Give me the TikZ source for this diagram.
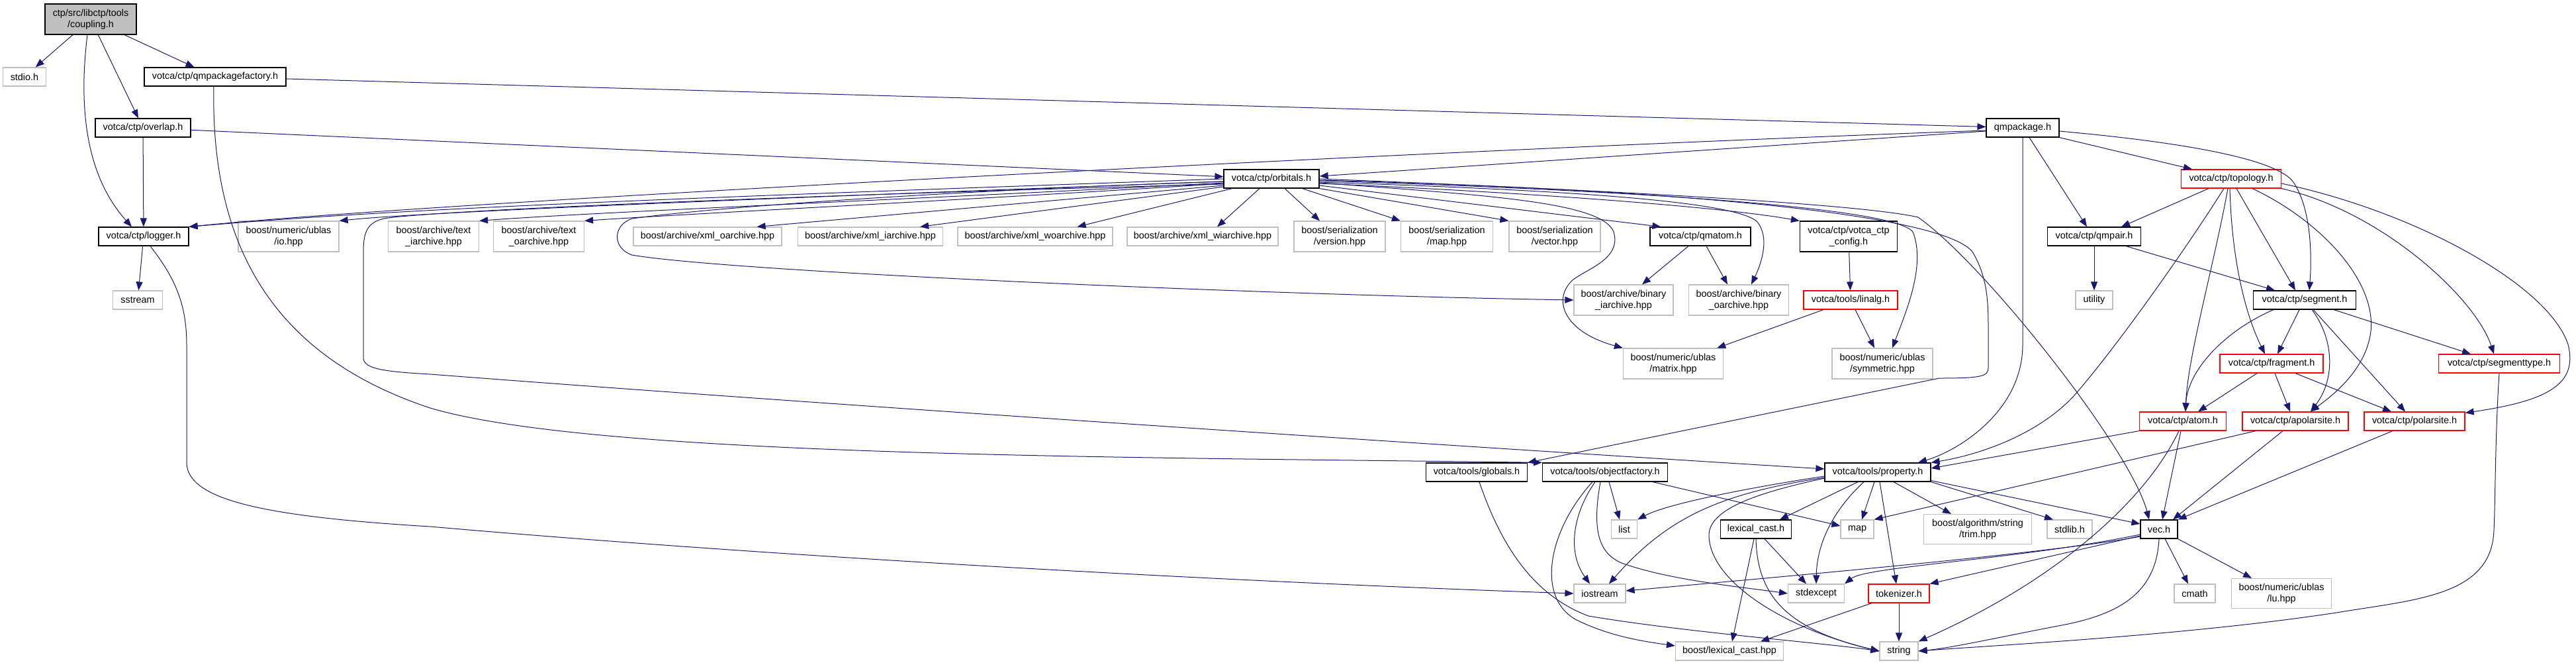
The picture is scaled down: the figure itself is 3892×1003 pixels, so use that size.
\documentclass[tikz,border=0pt]{standalone}
\usepackage{fontspec}
\setmainfont{Liberation Sans}
\usepackage{tikz}
\usetikzlibrary{arrows.meta}

\definecolor{edgeblue}{HTML}{191970}
\definecolor{extgray}{HTML}{BFBFBF}
\newcommand{\graphfont}{\fontsize{7.2pt}{8.6pt}\selectfont}

\begin{document}
\begin{tikzpicture}[x=0.5pt, y=-0.5pt,
  block/.style={rectangle, draw=black, line width=0.6pt, fill=white, inner sep=0pt, align=center, minimum height=14pt, font=\graphfont},
  ext/.style={block, draw=extgray},
  trunc/.style={block, draw=red},
  root/.style={block, fill=extgray},
  line/.style={draw=edgeblue, line width=0.5pt, -{Triangle[length=6.5pt,width=5pt]}}]

  \useasboundingbox (0,0) rectangle (3892,1003);

  % top rows
  \node [root, minimum width=69pt, minimum height=23pt] (coupling) at (137,29) {ctp/src/libctp/tools\\/coupling.h};
  \node [ext, minimum width=32.5pt] (stdio) at (37,116) {stdio.h};
  \node [block, minimum width=107pt] (qmpf) at (325,116) {votca/ctp/qmpackagefactory.h};
  \node [block, minimum width=72pt] (overlap) at (216,193) {votca/ctp/overlap.h};
  \node [block, minimum width=55pt] (qmpackage) at (3056,193) {qmpackage.h};
  \node [block, minimum width=72pt] (orbitals) at (1921,270) {votca/ctp/orbitals.h};
  \node [trunc, minimum width=75.5pt] (topology) at (3371,270) {votca/ctp/topology.h};

  % includes of orbitals
  \node [block, minimum width=68pt] (logger) at (217,357) {votca/ctp/logger.h};
  \node [ext, minimum width=76pt, minimum height=23pt] (ublasio) at (436,357) {boost/numeric/ublas\\/io.hpp};
  \node [ext, minimum width=68.5pt, minimum height=23pt] (textia) at (655,357) {boost/archive/text\\\_iarchive.hpp};
  \node [ext, minimum width=68.5pt, minimum height=23pt] (textoa) at (814,357) {boost/archive/text\\\_oarchive.hpp};
  \node [ext, minimum width=112pt] (xmloa) at (1069,357) {boost/archive/xml\_oarchive.hpp};
  \node [ext, minimum width=109.5pt] (xmlia) at (1315,357) {boost/archive/xml\_iarchive.hpp};
  \node [ext, minimum width=117pt] (xmlwoa) at (1564,357) {boost/archive/xml\_woarchive.hpp};
  \node [ext, minimum width=114pt] (xmlwia) at (1817,357) {boost/archive/xml\_wiarchive.hpp};
  \node [ext, minimum width=69pt, minimum height=23pt] (version) at (2024,357) {boost/serialization\\/version.hpp};
  \node [ext, minimum width=69.5pt, minimum height=23pt] (sermap) at (2186,357) {boost/serialization\\/map.hpp};
  \node [ext, minimum width=69pt, minimum height=23pt] (servec) at (2349,357) {boost/serialization\\/vector.hpp};
  \node [block, minimum width=76pt] (qmatom) at (2569,357) {votca/ctp/qmatom.h};
  \node [block, minimum width=73.5pt, minimum height=23pt] (config) at (2793,357) {votca/ctp/votca\_ctp\\\_config.h};
  \node [block, minimum width=70.5pt] (qmpair) at (3164,357) {votca/ctp/qmpair.h};

  \node [ext, minimum width=37.5pt] (sstream) at (208,453) {sstream};
  \node [ext, minimum width=75pt, minimum height=23pt] (binia) at (2453,453) {boost/archive/binary\\\_iarchive.hpp};
  \node [ext, minimum width=75.5pt, minimum height=23pt] (binoa) at (2627,453) {boost/archive/binary\\\_oarchive.hpp};
  \node [trunc, minimum width=71pt] (linalg) at (2796,453) {votca/tools/linalg.h};
  \node [ext, minimum width=28pt] (utility) at (3164,453) {utility};
  \node [block, minimum width=77.5pt] (segment) at (3482,453) {votca/ctp/segment.h};

  \node [ext, minimum width=75.5pt, minimum height=23pt] (ublasmatrix) at (2528,549) {boost/numeric/ublas\\/matrix.hpp};
  \node [ext, minimum width=76pt, minimum height=23pt] (symmetric) at (2844,549) {boost/numeric/ublas\\/symmetric.hpp};
  \node [trunc, minimum width=78pt] (fragment) at (3432,549) {votca/ctp/fragment.h};
  \node [trunc, minimum width=91.5pt] (segtype) at (3776,549) {votca/ctp/segmenttype.h};

  \node [trunc, minimum width=65.5pt] (atom) at (3298,636) {votca/ctp/atom.h};
  \node [trunc, minimum width=80pt] (apolar) at (3468,636) {votca/ctp/apolarsite.h};
  \node [trunc, minimum width=76pt] (polar) at (3648,636) {votca/ctp/polarsite.h};

  % bottom rows
  \node [block, minimum width=76.5pt] (globals) at (2231,713) {votca/tools/globals.h};
  \node [block, minimum width=94.5pt] (objfac) at (2425,713) {votca/tools/objectfactory.h};
  \node [block, minimum width=80pt] (property) at (2837,713) {votca/tools/property.h};

  \node [ext, minimum width=19.5pt] (stdlist) at (2454,799) {list};
  \node [block, minimum width=53.5pt] (lexh) at (2653,799) {lexical\_cast.h};
  \node [ext, minimum width=25pt] (stdmap) at (2806,799) {map};
  \node [ext, minimum width=81.5pt, minimum height=22.5pt] (trim) at (2988,799) {boost/algorithm/string\\/trim.hpp};
  \node [ext, minimum width=34pt] (stdlib) at (3127,799) {stdlib.h};
  \node [block, minimum width=28pt] (vec) at (3262,799) {vec.h};

  \node [ext, minimum width=39pt] (iostream) at (2417,896) {iostream};
  \node [ext, minimum width=42.5pt] (stdexcept) at (2744,896) {stdexcept};
  \node [trunc, minimum width=46pt] (tokenizer) at (2869,896) {tokenizer.h};
  \node [ext, minimum width=31pt] (cmath) at (3316,896) {cmath};
  \node [ext, minimum width=75.5pt, minimum height=22.5pt] (lu) at (3447,896) {boost/numeric/ublas\\/lu.hpp};

  \node [ext, minimum width=81.5pt] (lexhpp) at (2613,983) {boost/lexical\_cast.hpp};
  \node [ext, minimum width=29pt] (stdstring) at (2869,983) {string};

  % coupling.h
  \path [line] (coupling) -- (stdio);
  \path [line] ([xshift=-2.5pt]coupling.south) .. controls (120,150) and (125,260) .. ([xshift=-9pt]logger.north);
  \path [line] (coupling) -- (overlap);
  \path [line] (coupling) -- (qmpf);

  % qmpackagefactory.h
  \path [line] (qmpf) -- (qmpackage);
  \path [line] ([xshift=-1pt]qmpf.south) .. controls (318,380) and (420,540) .. (650,616) .. controls (900,690) and (1700,690) .. (objfac.north west);

  % overlap.h, logger.h
  \path [line] (overlap) -- (logger);
  \path [line] (overlap) -- (orbitals);
  \path [line] (logger) -- (sstream);
  \path [line] ([xshift=5pt]logger.south) .. controls (265,420) and (282,460) .. (282,520) -- (282,700) .. controls (285,755) and (400,780) .. (650,795) .. controls (1200,843) and (1900,880) .. (iostream.west);

  % qmpackage.h
  \path [line] ([yshift=-2pt]qmpackage.west) .. controls (2200,225) and (650,305) .. (logger.north east);
  \path [line] ([yshift=-2.5pt]qmpackage.west) -- ([yshift=2pt]orbitals.east);
  \path [line] (qmpackage.south) -- (3056,520) .. controls (3056,620) and (2960,680) .. ([xshift=30.5pt]property.north);
  \path [line] ([xshift=5pt]qmpackage.south) -- ([xshift=-5.5pt]qmpair.north);
  \path [line] (qmpackage.south east) -- ([xshift=8.5pt]topology.north west);
  \path [line] ([yshift=-2.5pt]qmpackage.east) .. controls (3300,215) and (3440,240) .. (3465,275) .. controls (3495,320) and (3492,400) .. ([xshift=3.5pt]segment.north);

  % orbitals.h
  \path [line] (orbitals.west) .. controls (1000,300) and (600,315) .. (logger.north east);
  \path [line] ([yshift=-2pt]orbitals.west) .. controls (1000,305) and (620,322) .. (ublasio.north east);
  \path [line] ([yshift=-4pt]orbitals.west) .. controls (1200,295) and (650,318) .. (580,330) .. controls (555,336) and (549,350) .. (549,380) -- (549,540) .. controls (549,557) and (580,561) .. (650,565) .. controls (1300,615) and (2300,680) .. ([yshift=2.5pt]property.west);
  \path [line] ([yshift=-3pt]orbitals.west) .. controls (1400,300) and (900,320) .. (textia.north east);
  \path [line] ([yshift=-3.5pt]orbitals.west) .. controls (1500,300) and (1050,322) .. (textoa.north east);
  \path [line] ([yshift=-5pt]orbitals.west) -- ([xshift=-19pt]xmloa.north east);
  \path [line] ([yshift=-6pt]orbitals.west) -- ([xshift=-17.5pt]xmlia.north east);
  \path [line] ([xshift=6.5pt]orbitals.south west) -- ([xshift=-27pt]xmlwoa.north east);
  \path [line] ([xshift=-9pt]orbitals.south) -- ([xshift=11pt]xmlwia.north);
  \path [line] ([yshift=-2pt]orbitals.west) .. controls (1500,285) and (1100,310) .. (955,330) .. controls (925,340) and (925,375) .. (955,385) .. controls (1100,410) and (1900,445) .. (binia.west);
  \path [line] ([xshift=10pt]orbitals.south) -- ([xshift=-15pt]version.north);
  \path [line] ([xshift=-13pt]orbitals.south east) -- (sermap.north west);
  \path [line] (orbitals.south east) -- (servec.north west);
  \path [line] ([yshift=-5pt]orbitals.east) -- ([xshift=8.5pt]qmatom.north west);
  \path [line] ([yshift=-3pt]orbitals.east) .. controls (2250,295) and (2420,305) .. (2438,350) .. controls (2450,390) and (2400,405) .. (2377,422) .. controls (2345,450) and (2360,500) .. (ublasmatrix.north west);
  \path [line] ([yshift=-3.5pt]orbitals.east) .. controls (2300,290) and (2600,312) .. (config.north west);
  \path [line] ([yshift=-2.5pt]orbitals.east) .. controls (2300,285) and (2620,300) .. (2655,335) .. controls (2675,360) and (2660,400) .. ([xshift=9.5pt]binoa.north);
  \path [line] ([yshift=-1.5pt]orbitals.east) .. controls (2400,285) and (2860,310) .. (2890,350) .. controls (2910,400) and (2880,470) .. ([xshift=7.5pt]symmetric.north);
  \path [line] ([yshift=-1pt]orbitals.east) .. controls (2500,285) and (2930,320) .. (2980,380) .. controls (3004,420) and (3004,460) .. (3004,500) -- (3004,555) .. controls (3004,568) and (2995,571) .. (2930,571) -- (globals.north east);
  \path [line] (orbitals.east) .. controls (2500,290) and (2820,310) .. (2898,328) .. controls (3000,400) and (3220,680) .. ([xshift=-7.5pt]vec.north);

  % config, linalg, qmatom, qmpair
  \path [line] (config) -- (linalg);
  \path [line] ([xshift=-20.5pt]linalg.south) -- ([xshift=-5pt]ublasmatrix.north east);
  \path [line] ([xshift=3.5pt]linalg.south) -- ([xshift=-6pt]symmetric.north);
  \path [line] ([xshift=-9pt]qmatom.south) -- ([xshift=14pt]binia.north);
  \path [line] ([xshift=4.5pt]qmatom.south) -- ([xshift=-8.5pt]binoa.north);
  \path [line] (qmpair) -- (utility);
  \path [line] ([xshift=-11.5pt]qmpair.south east) -- ([xshift=-22.5pt]segment.north);

  % topology.h
  \path [line] ([xshift=-17pt]topology.south) -- ([xshift=20.5pt]qmpair.north);
  \path [line] ([xshift=-5.5pt]topology.south) .. controls (3300,380) and (3200,520) .. (3140,590) .. controls (3090,650) and (3000,685) .. (property.north east);
  \path [line] ([xshift=-2.5pt]topology.south) .. controls (3345,400) and (3305,540) .. ([xshift=2pt]atom.north);
  \path [line] ([xshift=-1pt]topology.south) .. controls (3372,400) and (3395,480) .. ([xshift=-5pt]fragment.north);
  \path [line] ([xshift=4pt]topology.south) -- ([xshift=-7pt]segment.north);
  \path [line] ([xshift=16pt]topology.south) .. controls (3500,330) and (3590,420) .. (3582,500) .. controls (3575,560) and (3520,600) .. ([xshift=11.5pt]apolar.north);
  \path [line] (topology.south east) .. controls (3600,320) and (3740,450) .. ([xshift=-4pt]segtype.north);
  \path [line] ([yshift=-3.5pt]topology.east) .. controls (3650,320) and (3850,430) .. (3880,520) .. controls (3895,580) and (3850,605) .. ([yshift=-1pt]polar.north east);

  % segment.h, fragment.h
  \path [line] ([xshift=-23.5pt]segment.south) .. controls (3360,500) and (3305,560) .. ([xshift=2pt]atom.north);
  \path [line] ([xshift=-4pt]segment.south) -- ([xshift=4.5pt]fragment.north);
  \path [line] ([xshift=5.5pt]segment.south) .. controls (3525,510) and (3530,570) .. ([xshift=11.5pt]apolar.north);
  \path [line] ([xshift=6.5pt]segment.south) -- ([xshift=-7pt]polar.north);
  \path [line] ([xshift=22pt]segment.south) -- ([xshift=-21.5pt]segtype.north);
  \path [line] ([xshift=-11pt]fragment.south) -- ([xshift=11.5pt]atom.north);
  \path [line] ([xshift=2.5pt]fragment.south) -- ([xshift=-4pt]apolar.north);
  \path [line] ([xshift=18pt]fragment.south) -- ([xshift=-17.5pt]polar.north);

  % atom.h, apolarsite.h, polarsite.h, segmenttype.h
  \path [line] ([xshift=-1.5pt]atom.south) -- ([xshift=2.5pt]vec.north);
  \path [line] ([xshift=-3pt]atom.south) .. controls (3240,760) and (3100,880) .. (stdstring.north east);
  \path [line] (atom.south west) -- ([yshift=3pt]property.east);
  \path [line] ([xshift=-30pt]apolar.south) -- (stdmap.north east);
  \path [line] ([xshift=-9.5pt]apolar.south) -- ([xshift=10.5pt]vec.north);
  \path [line] ([xshift=-16.5pt]polar.south) -- (vec.north east);
  \path [line] (segtype.south) .. controls (3770,650) and (3770,760) .. (3768,800) .. controls (3765,900) and (3650,905) .. (3530,925) .. controls (3300,960) and (3000,975) .. (stdstring.east);

  % vec.h
  \path [line] (vec.south) .. controls (3258,890) and (3210,925) .. (3120,943) .. controls (3020,962) and (2950,978) .. (stdstring.east);
  \path [line] ([xshift=4.5pt]vec.south) -- ([xshift=-5pt]cmath.north);
  \path [line] (vec.south east) -- ([xshift=-22.5pt]lu.north);
  \path [line] ([yshift=-5pt]vec.west) -- (tokenizer.north east);
  \path [line] ([yshift=-4pt]vec.west) .. controls (3050,845) and (2820,855) .. (stdexcept.north east);
  \path [line] ([yshift=-5.5pt]vec.west) .. controls (3100,835) and (2700,870) .. ([yshift=2pt]iostream.east);

  % property.h
  \path [line] ([xshift=-15pt]property.south) -- ([xshift=18pt]lexh.north);
  \path [line] ([xshift=-2.5pt]property.south) -- ([xshift=3.5pt]stdmap.north);
  \path [line] ([xshift=-10.5pt]property.south) .. controls (2770,770) and (2745,820) .. (stdexcept.north);
  \path [line] ([xshift=1.5pt]property.south) -- ([xshift=-2pt]tokenizer.north);
  \path [line] ([xshift=12pt]property.south) -- ([xshift=-20pt]trim.north);
  \path [line] (property.south east) -- ([xshift=-12.5pt]stdlib.north);
  \path [line] ([yshift=1pt]property.south east) -- ([yshift=4pt]vec.west);
  \path [line] ([yshift=-3pt]property.west) .. controls (2650,735) and (2520,760) .. (stdlist.north east);
  \path [line] ([yshift=-4pt]property.west) .. controls (2600,745) and (2520,780) .. ([xshift=7pt]iostream.north);
  \path [line] ([yshift=-4.5pt]property.west) .. controls (2650,745) and (2580,770) .. (2582,810) .. controls (2585,880) and (2700,950) .. (stdstring.west);

  % objectfactory.h, globals.h
  \path [line] ([xshift=36pt]objfac.south) -- ([yshift=2.5pt]stdmap.west);
  \path [line] ([xshift=3pt]objfac.south) -- ([xshift=-3.5pt]stdlist.north);
  \path [line] ([xshift=-7.5pt]objfac.south) .. controls (2380,770) and (2365,830) .. ([xshift=-7.5pt]iostream.north);
  \path [line] ([xshift=-3.5pt]objfac.south) .. controls (2405,800) and (2415,835) .. (2450,850) .. controls (2520,875) and (2620,885) .. (stdexcept.west);
  \path [line] ([xshift=-9.5pt]objfac.south) .. controls (2340,800) and (2320,900) .. (2380,935) .. controls (2430,960) and (2480,968) .. ([yshift=4pt]lexhpp.west);
  \path [line] ([xshift=2pt]globals.south) .. controls (2270,830) and (2320,900) .. (2400,930) .. controls (2550,955) and (2750,970) .. (stdstring.west);

  % lexical_cast.h, tokenizer.h
  \path [line] ([xshift=-1.5pt]lexh.south) -- ([xshift=2pt]lexhpp.north);
  \path [line] ([xshift=6.5pt]lexh.south) -- ([xshift=-7.5pt]stdexcept.north);
  \path [line] (lexh.south) .. controls (2655,900) and (2700,950) .. (stdstring.west);
  \path [line] ([xshift=-20.5pt]tokenizer.south) -- ([xshift=23.5pt]lexhpp.north);
  \path [line] (tokenizer) -- (stdstring);
\end{tikzpicture}
\end{document}
